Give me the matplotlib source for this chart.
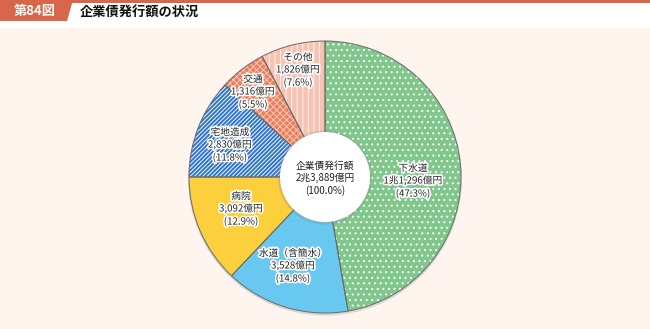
import matplotlib
matplotlib.use("Agg")
import matplotlib.pyplot as plt
import matplotlib.patheffects as pe
from matplotlib.patches import Circle, Polygon, Rectangle

plt.rcParams["font.family"] = ["Noto Sans CJK JP", "DejaVu Sans"]
plt.rcParams["hatch.linewidth"] = 0.75

# 企業債発行額（億円）
categories = ["下水道", "水道（含簡水）", "病院", "宅地造成", "交通", "その他"]
amounts = [11296, 3528, 3092, 2830, 1316, 1826]
shares = [47.3, 14.8, 12.9, 11.8, 5.5, 7.6]
total_amount = 23889
total_label = "企業債発行額"

FILLS = ["#80c78b", "#68c8f0", "#fccf3c", "#2f74c8", "#e8805f", "#f6c2b2"]
HATCH_COLORS = ["white", "#68c8f0", "#fccf3c", "#e8f0ff", "#f8c2ae", "#fff0ea"]
HATCHES = ["...", None, None, "////////", "xxxxx", "|||"]

BG = "#fdf5ee"
ACCENT = "#d8664a"
TEXT = "#222222"

W, H = 650, 329
CX, CY, R, R_IN = 325, 329 - 177, 136, 45

# label anchor (pixel x, pixel y from top)
LABEL_POS = [(413, 181), (293, 266), (241, 209), (230, 145), (253, 92), (298, 70)]


def oku_text(v):
    if v >= 10000:
        return f"{v // 10000}兆{v % 10000:,}億円"
    return f"{v:,}億円"


fig = plt.figure(figsize=(W / 100, H / 100), dpi=100, facecolor=BG)
ax = fig.add_axes([0, 0, 1, 1])
ax.set_xlim(0, W)
ax.set_ylim(0, H)
ax.axis("off")

# header band
ax.add_patch(Rectangle((0, H - 28), W, 28, facecolor="white", edgecolor="none", zorder=1))
ax.add_patch(Rectangle((0, H - 2.5), W, 2.5, facecolor=ACCENT, edgecolor="none", zorder=2))
ax.add_patch(Polygon([(0, H), (73, H), (67, H - 21), (0, H - 21)],
                     closed=True, facecolor=ACCENT, edgecolor="none", zorder=2))
ax.text(35, H - 11, "第84図", color="white", fontsize=9.5, fontweight="bold",
        ha="center", va="center", zorder=3)
ax.text(80, H - 13, "企業債発行額の状況", color="#111111", fontsize=9.5, fontweight="bold",
        ha="left", va="center", zorder=3)

# soft shadow under the ring
ax.add_patch(Circle((CX, CY - 1.5), R + 1, facecolor="#999999", alpha=0.35,
                    edgecolor="none", zorder=2))

wedges, _ = ax.pie(amounts, colors=FILLS, startangle=90, counterclock=False,
                   center=(CX, CY), radius=R, frame=True,
                   wedgeprops=dict(linewidth=0))
for w, hc, h in zip(wedges, HATCH_COLORS, HATCHES):
    w.set_zorder(3)
    w.set_edgecolor(hc)
    w.set_linewidth(0)
    if h:
        w.set_hatch(h)

outline, _ = ax.pie(amounts, colors=["none"] * len(amounts), startangle=90,
                    counterclock=False, center=(CX, CY), radius=R, frame=True,
                    wedgeprops=dict(linewidth=0.7, edgecolor="#6a6a6a", facecolor="none"))
for w in outline:
    w.set_zorder(4)

ax.set_xlim(0, W)
ax.set_ylim(0, H)
ax.set_aspect("equal")
ax.axis("off")

# centre disc
ax.add_patch(Circle((CX, CY - 0.5), R_IN + 2, facecolor="#888888", alpha=0.3,
                    edgecolor="none", zorder=5))
ax.add_patch(Circle((CX, CY), R_IN, facecolor="white", edgecolor="none", zorder=6))

halo = [pe.withStroke(linewidth=2.4, foreground="white")]
for (x, y), name, v, s in zip(LABEL_POS, categories, amounts, shares):
    ax.text(x, H - y, f"{name}\n{oku_text(v)}\n({s:.1f}%)", color=TEXT, fontsize=7,
            ha="center", va="center", linespacing=1.25, path_effects=halo, zorder=7)

ax.text(CX, H - 178, f"{total_label}\n{oku_text(total_amount)}\n(100.0%)", color=TEXT,
        fontsize=7, ha="center", va="center", linespacing=1.25, zorder=7)

fig.savefig("out.png", dpi=100, facecolor=BG)
